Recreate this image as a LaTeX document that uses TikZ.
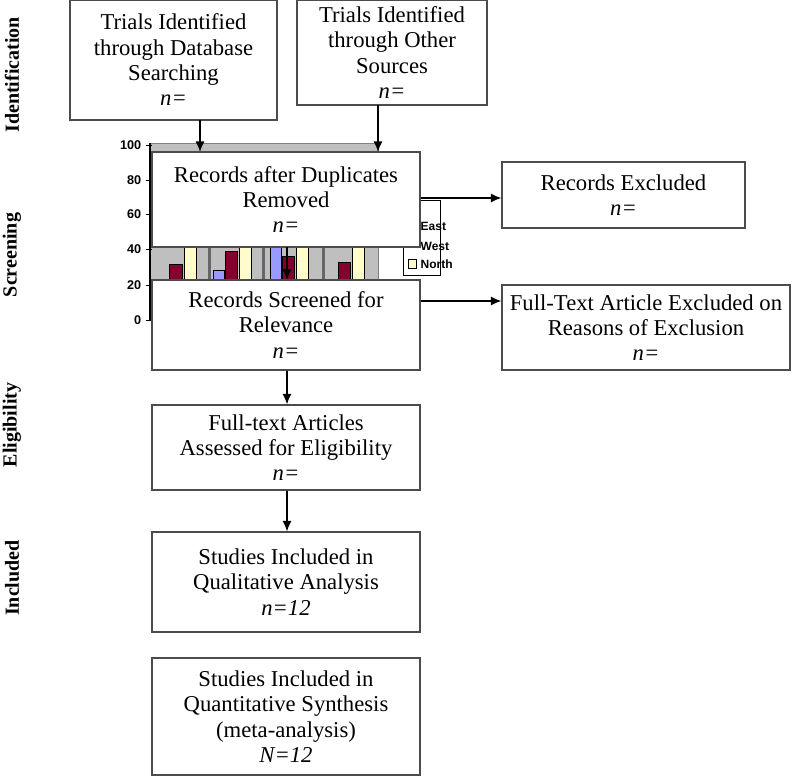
\documentclass[tikz,border=0pt]{standalone}
\usepackage{fontspec}
\setmainfont{Liberation Serif}
\newfontfamily\axf{Liberation Sans}
\usetikzlibrary{arrows.meta}
\begin{document}
\begin{tikzpicture}[x=0.75pt,y=-0.75pt,
  box/.style={draw=black!70,fill=white,line width=0.8pt},
  lbl/.style={align=center,font=\fontsize{17}{19}\selectfont},
  arr/.style={-{Latex[length=8pt,width=7pt]},line width=1.2pt},
  side/.style={rotate=90,font=\bfseries\fontsize{15}{17}\selectfont},
  ax/.style={font=\axf\bfseries\fontsize{9.5}{10}\selectfont,anchor=east},
  lg/.style={font=\axf\bfseries\fontsize{9}{10}\selectfont,anchor=west},
  bar/.style={draw=black,line width=0.4pt}]
\useasboundingbox (0,0) rectangle (800,778);
% chart artifact
\fill[black!25] (150,143) rectangle (378,290);
\draw[black!50] (150,143) -- (378,143) -- (378,290);
\draw[line width=0.8pt] (150,143) -- (150,321);
\foreach \v/\y in {100/145,80/180,60/214,40/249,20/285,0/320}{
  \draw (146,\y) -- (152,\y); \node[ax] at (146,\y) {\v};}
\foreach \x in {208,262,322}{\fill[black!60] (\x,247) rectangle (\x+3,280);}
\draw[bar,fill=purple!70!black] (169,264) rectangle (182,280);
\draw[bar,fill=yellow!20] (184,247) rectangle (196,280);
\draw[bar,fill=blue!40] (213,270) rectangle (224,280);
\draw[bar,fill=purple!70!black] (225,251) rectangle (237,280);
\draw[bar,fill=yellow!20] (239,247) rectangle (251,280);
\draw[bar,fill=blue!40] (270,247) rectangle (281,280);
\draw[bar,fill=purple!70!black] (282,256) rectangle (294,280);
\draw[bar,fill=yellow!20] (296,247) rectangle (308,280);
\draw[bar,fill=purple!70!black] (338,262) rectangle (350,280);
\draw[bar,fill=yellow!20] (352,247) rectangle (364,280);
\draw[fill=white] (403,200) rectangle (440,275);
\node[lg] (le) at (416,226) {East};
\node[lg] (lw) at (416,246) {West};
\draw[fill=yellow!20] (408,259) rectangle (416,268);
\node[lg] (ln) at (416,264) {North};
% boxes
\node[box,minimum width=207*0.75pt,minimum height=120*0.75pt,lbl] (db) at (173.5,60) {Trials Identified\\through Database\\Searching\\\textit{n=}};
\node[box,minimum width=190*0.75pt,minimum height=105*0.75pt,lbl] (os) at (392,52.5) {Trials Identified\\through Other\\Sources\\\textit{n=}};
\node[box,minimum width=268*0.75pt,minimum height=95*0.75pt,lbl] (dup) at (286,199.5) {Records after Duplicates\\Removed\\\textit{n=}};
\node[box,minimum width=268*0.75pt,minimum height=90*0.75pt,lbl] (scr) at (286,325) {Records Screened for\\Relevance\\\textit{n=}};
\node[box,minimum width=243*0.75pt,minimum height=66*0.75pt,lbl] (rex) at (623.5,195) {Records Excluded\\\textit{n=}};
\node[box,minimum width=288*0.75pt,minimum height=85*0.75pt,lbl] (fex) at (646,327.5) {Full-Text Article Excluded on\\Reasons of Exclusion\\\textit{n=}};
\node[box,minimum width=268*0.75pt,minimum height=85*0.75pt,lbl] (elig) at (286,447.5) {Full-text Articles\\Assessed for Eligibility\\\textit{n=}};
\node[box,minimum width=268*0.75pt,minimum height=100*0.75pt,lbl] (qual) at (286,582) {Studies Included in\\Qualitative Analysis\\\textit{n=12}};
\node[box,minimum width=268*0.75pt,minimum height=117*0.75pt,lbl] (quan) at (286,716.5) {Studies Included in\\Quantitative Synthesis\\(meta-analysis)\\\textit{N=12}};
% arrows
\coordinate (a1) at (200,152); \coordinate (a2) at (378,152);
\draw[arr] (200,120) -- (a1);
\draw[arr] (378,105) -- (a2);
\draw[arr] (dup.east |- 0,198) -- (rex.west |- 0,198);
\draw[arr] (scr.east |- 0,301) -- (fex.west |- 0,301);
\draw[arr] (287,247) -- (287,280);
\draw[arr] (scr.south -| 287,0) -- (elig.north -| 287,0);
\draw[arr] (elig.south -| 287,0) -- (qual.north -| 287,0);
% side labels
\node[side] (s1) at (12,75) {Identification};
\node[side] (s2) at (12,255) {Screening};
\node[side] (s3) at (12,425) {Eligibility};
\node[side] (s4) at (12,578) {Included};
\end{tikzpicture}
\end{document}
